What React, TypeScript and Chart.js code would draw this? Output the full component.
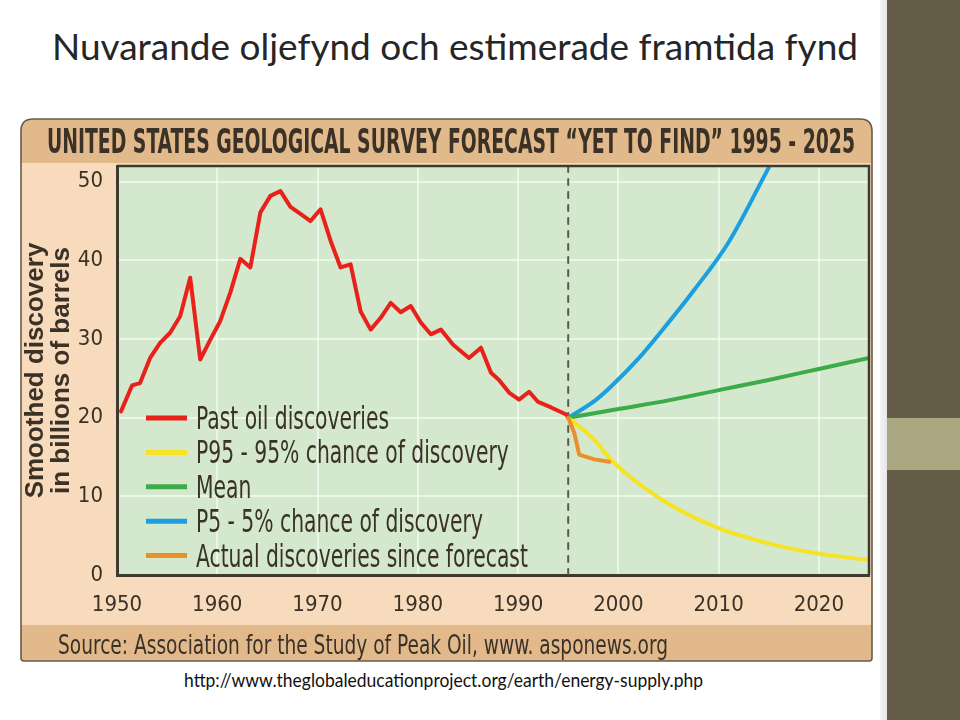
import React, { useEffect, useRef } from "react";
import { Chart, registerables } from "chart.js";
Chart.register(...registerables);

// ---------- texts ----------
const slideTitle = "Nuvarande oljefynd och estimerade framtida fynd";
const headerText = "UNITED STATES GEOLOGICAL SURVEY FORECAST \u201CYET TO FIND\u201D 1995 - 2025";
const sourceText = "Source: Association for the Study of Peak Oil, www. asponews.org";
const urlText = "http://www.theglobaleducationproject.org/earth/energy-supply.php";
const yTitleLines = ["Smoothed discovery", "in billions of barrels"];

// ---------- axes ----------
const xTickValues = [1950, 1960, 1970, 1980, 1990, 2000, 2010, 2020];
const yTickValues = [0, 10, 20, 30, 40, 50];
const xMin = 1950;
const xMax = 2025;
const yMin = 0;
const yMax = 52;

// ---------- series ----------
const seriesLabels = [
  "Past oil discoveries",
  "P95 - 95% chance of discovery",
  "Mean",
  "P5 - 5% chance of discovery",
  "Actual discoveries since forecast",
];
const seriesColors = ["#e8211b", "#f6e325", "#3cab4a", "#1b9fe0", "#e98f2b"];

const pastYears = [
  1950.4, 1951.5, 1952.3, 1953.3, 1954.3, 1955.3, 1956.3, 1957.3, 1958.3, 1959.3,
  1960.3, 1961.3, 1962.3, 1963.3, 1964.3, 1965.3, 1966.3, 1967.3, 1968.3, 1969.3,
  1970.3, 1971.3, 1972.3, 1973.3, 1974.3, 1975.3, 1976.3, 1977.3, 1978.3, 1979.3,
  1980.3, 1981.3, 1982.3, 1983.5, 1985.1, 1986.3, 1987.3, 1988.1, 1989.1, 1990.1,
  1991.1, 1992.0, 1993.3, 1994.8, 1995.0,
];
const pastValues = [
  20.8, 24.1, 24.4, 27.6, 29.5, 30.8, 32.9, 37.8, 27.4, 29.9,
  32.3, 35.9, 40.2, 39.1, 46.1, 48.2, 48.8, 46.8, 45.9, 45.0,
  46.5, 42.5, 39.1, 39.5, 33.5, 31.2, 32.7, 34.6, 33.4, 34.2,
  32.1, 30.6, 31.2, 29.3, 27.6, 28.9, 25.7, 24.8, 23.2, 22.3,
  23.3, 22.0, 21.3, 20.4, 20.0,
];

const p95Years = [1995, 1997.6, 1999.3, 2004.3, 2009.6, 2014.3, 2019.6, 2025];
const p95Values = [20.0, 17.2, 14.6, 9.6, 6.15, 4.25, 2.8, 1.9];

const meanYears = [1995, 2000, 2005, 2010, 2015, 2020, 2025];
const meanValues = [20.0, 21.1, 22.2, 23.5, 24.8, 26.2, 27.6];

const p5Years = [1995, 1997.6, 1999.3, 2002.0, 2004.3, 2007.6, 2011.0, 2015.0];
const p5Values = [20.0, 22.1, 24.0, 27.5, 31.0, 36.3, 42.3, 51.8];

const actualYears = [1995, 1995.6, 1996.1, 1997.6, 1999.1];
const actualValues = [20.0, 18.1, 15.3, 14.7, 14.4];

const forecastStartYears = [1995, 1995];
const forecastStartValues = [0, 52];

// ---------- font helpers ----------
const mctx: CanvasRenderingContext2D | null =
  typeof document !== "undefined" ? document.createElement("canvas").getContext("2d") : null;

function fontAvailable(name: string): boolean {
  if (!mctx) return false;
  const s = "mmmmmmmmmmlliWW0123456789abcdefghXYZ";
  let diff = false;
  for (const base of ["monospace", "serif"]) {
    mctx.font = `50px ${base}`;
    const a = mctx.measureText(s).width;
    mctx.font = `50px "${name}", ${base}`;
    const b = mctx.measureText(s).width;
    if (a !== b) diff = true;
  }
  return diff;
}

const HAS_NARROW = fontAvailable("Liberation Sans Narrow");
const HAS_DJ_COND = fontAvailable("DejaVu Sans Condensed");
const NARROW = HAS_NARROW
  ? '"Liberation Sans Narrow", "Liberation Sans", sans-serif'
  : HAS_DJ_COND
  ? '"DejaVu Sans Condensed", "Liberation Sans", sans-serif'
  : '"Liberation Sans", sans-serif';
const TICK_SIZE = HAS_NARROW ? 26 : 22;

function textWidth(text: string, font: string): number {
  if (!mctx) return 1;
  mctx.font = font;
  return mctx.measureText(text).width || 1;
}

const INK = "#3a3127";

function drawFitted(
  ctx: CanvasRenderingContext2D,
  text: string,
  font: string,
  x: number,
  baseline: number,
  targetWidth: number
) {
  ctx.save();
  ctx.font = font;
  const w = ctx.measureText(text).width || 1;
  ctx.translate(x, baseline);
  ctx.scale(targetWidth / w, 1);
  ctx.textBaseline = "alphabetic";
  ctx.textAlign = "left";
  ctx.fillText(text, 0, 0);
  ctx.restore();
}

function roundRectPath(ctx: CanvasRenderingContext2D, x: number, y: number, w: number, h: number, rt: number, rb: number) {
  ctx.beginPath();
  ctx.moveTo(x + rt, y);
  ctx.lineTo(x + w - rt, y);
  ctx.quadraticCurveTo(x + w, y, x + w, y + rt);
  ctx.lineTo(x + w, y + h - rb);
  ctx.quadraticCurveTo(x + w, y + h, x + w - rb, y + h);
  ctx.lineTo(x + rb, y + h);
  ctx.quadraticCurveTo(x, y + h, x, y + h - rb);
  ctx.lineTo(x, y + rt);
  ctx.quadraticCurveTo(x, y, x + rt, y);
  ctx.closePath();
}

const panelPlugin = {
  id: "panel",
  beforeDraw(chart: any) {
    const { ctx, chartArea, width, height } = chart;
    ctx.save();
    roundRectPath(ctx, 1, 1, width - 2, height - 2, 12, 3);
    ctx.fillStyle = "#f8dbbd";
    ctx.fill();
    ctx.clip();
    // header band
    ctx.fillStyle = "#e2b98b";
    ctx.fillRect(0, 0, width, chartArea.top - 3);
    // footer band
    ctx.fillRect(0, height - 37, width, 37);
    ctx.restore();
    // plot background
    ctx.save();
    ctx.fillStyle = "#d3e8cc";
    ctx.fillRect(chartArea.left, chartArea.top, chartArea.right - chartArea.left, chartArea.bottom - chartArea.top);
    ctx.restore();
    // header + footer texts
    ctx.save();
    ctx.fillStyle = INK;
    drawFitted(ctx, headerText, `bold 34px ${NARROW}`, 27, 35, 808);
    drawFitted(ctx, sourceText, `400 26px ${NARROW}`, 38, 536, 610);
    ctx.restore();
  },
  afterDraw(chart: any) {
    const { ctx, chartArea, width, height } = chart;
    ctx.save();
    ctx.strokeStyle = "#3d3a2f";
    ctx.lineWidth = 2.5;
    ctx.beginPath();
    ctx.moveTo(chartArea.left, chartArea.top);
    ctx.lineTo(chartArea.right, chartArea.top);
    ctx.lineTo(chartArea.right, chartArea.bottom);
    ctx.stroke();
    ctx.strokeStyle = "#6a5a48";
    ctx.lineWidth = 1.6;
    roundRectPath(ctx, 1, 1, width - 2, height - 2, 12, 3);
    ctx.stroke();
    ctx.restore();
  },
};

const insideLegendPlugin = {
  id: "insideLegend",
  afterDatasetsDraw(chart: any) {
    const { ctx, chartArea } = chart;
    const items = chart.data.datasets.filter((d: any) => seriesLabels.includes(d.label));
    const font = `400 32px ${NARROW}`;
    const sx = 193 / textWidth(seriesLabels[0], font);
    ctx.save();
    items.forEach((d: any, i: number) => {
      const y = chartArea.bottom - 157 + i * 34.4;
      ctx.strokeStyle = d.borderColor;
      ctx.lineWidth = 5;
      ctx.lineCap = "butt";
      ctx.beginPath();
      ctx.moveTo(chartArea.left + 29, y);
      ctx.lineTo(chartArea.left + 70, y);
      ctx.stroke();
      ctx.save();
      ctx.fillStyle = INK;
      ctx.font = font;
      ctx.textBaseline = "alphabetic";
      ctx.translate(chartArea.left + 79, y + 11);
      ctx.scale(sx, 1);
      ctx.fillText(d.label, 0, 0);
      ctx.restore();
    });
    ctx.restore();
  },
};

const pts = (xs: number[], ys: number[]) => xs.map((x, i) => ({ x, y: ys[i] }));

function fitScaleX(text: string, font: string, target: number) {
  return target / textWidth(text, font);
}

export default function App() {
  const ref = useRef<HTMLCanvasElement | null>(null);

  useEffect(() => {
    if (!ref.current) return;
    const gridColor = "rgba(255,255,255,0.55)";
    const chart = new Chart(ref.current, {
      type: "line",
      data: {
        datasets: [
          {
            label: seriesLabels[0],
            data: pts(pastYears, pastValues),
            borderColor: seriesColors[0],
            borderWidth: 4,
            tension: 0,
            pointRadius: 0,
          },
          {
            label: seriesLabels[1],
            data: pts(p95Years, p95Values),
            borderColor: seriesColors[1],
            borderWidth: 4,
            cubicInterpolationMode: "monotone",
            pointRadius: 0,
          },
          {
            label: seriesLabels[2],
            data: pts(meanYears, meanValues),
            borderColor: seriesColors[2],
            borderWidth: 4,
            cubicInterpolationMode: "monotone",
            pointRadius: 0,
          },
          {
            label: seriesLabels[3],
            data: pts(p5Years, p5Values),
            borderColor: seriesColors[3],
            borderWidth: 4,
            cubicInterpolationMode: "monotone",
            pointRadius: 0,
          },
          {
            label: seriesLabels[4],
            data: pts(actualYears, actualValues),
            borderColor: seriesColors[4],
            borderWidth: 4,
            tension: 0,
            pointRadius: 0,
            order: -1,
          },
          {
            label: "forecast start",
            data: pts(forecastStartYears, forecastStartValues),
            borderColor: "#5a5a50",
            borderWidth: 2,
            borderDash: [6, 7],
            pointRadius: 0,
            order: 5,
          },
        ],
      } as any,
      options: {
        responsive: false,
        animation: false,
        layout: { padding: { top: 48, right: 4, bottom: 37, left: 0 } },
        plugins: {
          legend: { display: false },
          tooltip: { enabled: false },
          title: { display: false },
        },
        elements: { line: { borderJoinStyle: "round", borderCapStyle: "round" } },
        scales: {
          x: {
            type: "linear",
            min: xMin,
            max: xMax,
            afterBuildTicks: (s: any) => {
              s.ticks = xTickValues.map((v) => ({ value: v }));
            },
            afterFit: (s: any) => {
              s.height = 50;
            },
            grid: { color: gridColor, lineWidth: 2, drawTicks: false },
            border: { display: true, color: "#3d3a2f", width: 3 },
            ticks: {
              padding: 17,
              color: INK,
              font: { family: NARROW, size: TICK_SIZE },
              callback: (v: any) => String(v),
              maxRotation: 0,
              autoSkip: false,
            },
          },
          y: {
            type: "linear",
            min: yMin,
            max: yMax,
            afterBuildTicks: (s: any) => {
              s.ticks = yTickValues.map((v) => ({ value: v }));
            },
            afterFit: (s: any) => {
              s.width = 97;
            },
            grid: { color: gridColor, lineWidth: 2, drawTicks: false },
            border: { display: true, color: "#3d3a2f", width: 3 },
            ticks: {
              padding: 14,
              color: INK,
              font: { family: NARROW, size: TICK_SIZE },
              callback: (v: any) => String(v),
            },
            title: {
              display: true,
              text: yTitleLines,
              color: INK,
              font: { family: '"Liberation Sans", sans-serif', size: 26, weight: "bold", lineHeight: 1 },
              padding: { top: 3, bottom: 0 },
            },
          },
        },
      } as any,
      plugins: [panelPlugin, insideLegendPlugin],
    });
    return () => chart.destroy();
  }, []);

  const titleFont = "400 37px Lato, sans-serif";
  const titleSx = fitScaleX(slideTitle, titleFont, 806);
  const urlFont = "400 19px Lato, sans-serif";
  const urlSx = fitScaleX(urlText, urlFont, 519);

  return (
    <div
      style={{
        position: "fixed",
        left: 0,
        top: 0,
        width: 960,
        height: 720,
        background: "#ffffff",
        overflow: "hidden",
      }}
    >
      <div
        style={{
          position: "absolute",
          left: 52,
          top: 27,
          font: titleFont,
          lineHeight: "37px",
          color: "#262626",
          whiteSpace: "nowrap",
          transform: `scaleX(${titleSx})`,
          transformOrigin: "left top",
        }}
      >
        {slideTitle}
      </div>
      <canvas
        ref={ref}
        width={853}
        height={544}
        style={{ position: "absolute", left: 20, top: 118, width: 853, height: 544 }}
      />
      <div
        style={{
          position: "absolute",
          left: 184,
          top: 670,
          font: urlFont,
          lineHeight: "19px",
          color: "#111111",
          whiteSpace: "nowrap",
          transform: `scaleX(${urlSx})`,
          transformOrigin: "left top",
        }}
      >
        {urlText}
      </div>
      <div
        style={{
          position: "absolute",
          left: 880,
          top: 0,
          width: 7,
          height: 720,
          background: "linear-gradient(to right, #f4f4f6, #e6e6e8)",
        }}
      />
      <div style={{ position: "absolute", left: 887, top: 0, width: 73, height: 720, background: "#655d47" }} />
      <div style={{ position: "absolute", left: 887, top: 418, width: 73, height: 52, background: "#aaa67f" }} />
    </div>
  );
}
